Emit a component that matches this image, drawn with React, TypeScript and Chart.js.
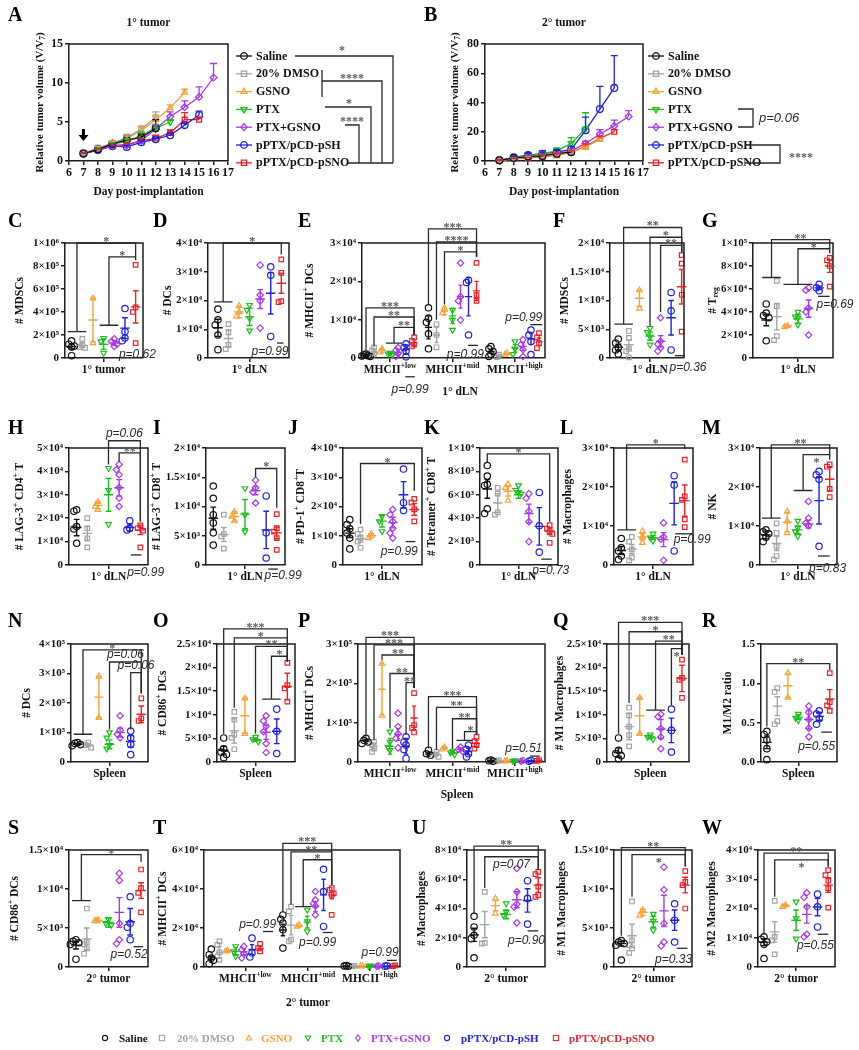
import React, { useEffect, useRef } from 'react';
import { Chart, registerables } from 'chart.js';
Chart.register(...registerables);

const SERIF = '"Liberation Serif", "Times New Roman", Times, serif';
const SANS = '"Liberation Sans", Arial, Helvetica, sans-serif';
const AX = '#1e1e1e';
const TXT = '#111111';
const STAR = '#5a5a5a';

// ---------------- groups ----------------
const GROUPS = ['Saline', '20% DMSO', 'GSNO', 'PTX', 'PTX+GSNO', 'pPTX/pCD-pSH', 'pPTX/pCD-pSNO'];
const COLORS = ['#111111', '#a3a3a3', '#f5a23c', '#1ebd1e', '#a63ae2', '#2121dc', '#e62328'];
const SHAPES = ['circle', 'rect', 'triangle', 'triangle', 'rectRot', 'circle', 'rect'];
const ROTS = [0, 0, 0, 180, 0, 0, 0];

// ---------------- A / B: tumor growth ----------------
const DAYS = [7, 8, 9, 10, 11, 12, 13, 14, 15, 16];
const A_MEAN = [
  [0.95, 1.5, 2.2, 2.7, 3.0, 4.2],
  [0.95, 1.7, 2.3, 3.0, 4.1, 5.6],
  [0.95, 1.6, 2.3, 2.9, 3.9, 5.3, 6.8, 8.8],
  [0.95, 1.5, 2.2, 2.5, 3.3, 4.2, 5.0],
  [0.95, 1.4, 1.9, 2.0, 2.6, 4.1, 5.7, 6.9, 8.2, 10.7],
  [0.95, 1.4, 1.9, 1.8, 2.4, 2.8, 3.3, 4.6, 5.9],
  [0.95, 1.4, 2.0, 2.1, 2.6, 2.9, 3.6, 5.3, 5.3],
];
const A_ERR = [
  [0.05, 0.2, 0.3, 0.5, 0.4, 1.1],
  [0.05, 0.2, 0.3, 0.4, 0.4, 0.7],
  [0.05, 0.2, 0.2, 0.3, 0.4, 0.5, 0.4, 0.4],
  [0.05, 0.15, 0.2, 0.3, 0.4, 0.5, 0.3],
  [0.05, 0.1, 0.2, 0.3, 0.3, 0.5, 0.6, 0.8, 1.3, 1.8],
  [0.05, 0.1, 0.2, 0.2, 0.2, 0.2, 0.2, 0.2, 0.5],
  [0.05, 0.1, 0.2, 0.2, 0.3, 0.4, 0.4, 0.9, 0.3],
];
const B_MEAN = [
  [0.5, 2.0, 3.0, 3.5, 5.0, 6.0],
  [0.5, 2.0, 3.5, 4.0, 5.0, 6.5],
  [0.5, 1.5, 2.5, 3.0, 4.0, 6.0, 9.5, 15.0],
  [0.5, 2.0, 3.5, 5.0, 7.0, 12.0, 22.0],
  [0.5, 1.5, 3.0, 4.0, 5.0, 7.0, 12.0, 18.5, 24.0, 30.4],
  [0.5, 2.5, 4.0, 5.0, 6.0, 8.0, 21.0, 35.5, 50.0],
  [0.5, 1.5, 2.0, 3.0, 4.0, 6.0, 10.0, 15.5, 20.0],
];
const B_ERR = [
  [0.2, 0.5, 0.8, 1, 1.2, 1.5],
  [0.2, 0.5, 0.8, 1, 1.2, 1.5],
  [0.2, 0.4, 0.5, 0.8, 1, 1, 1.5, 1.5],
  [0.2, 0.5, 1, 1.5, 2, 4, 11],
  [0.2, 0.4, 0.8, 1, 1, 1.5, 1.5, 3, 4, 4],
  [0.2, 0.8, 1.5, 2, 2, 2, 9, 15.5, 22],
  [0.2, 0.3, 0.5, 0.8, 1, 1, 1.5, 1.5, 1.5],
];

// ---------------- dot plots: points / mean / SD ----------------
const C_PTS = [[1.5e5, 1.2e5, 1.05e5, 0.95e5, 0.2e5], [1.67e5, 1.15e5, 0.95e5, 0.88e5], [5.2e5, 1.3e5], [1.73e5, 1.44e5, 0.43e5], [1.67e5, 1.44e5, 1.2e5, 1.0e5], [4.3e5, 2.3e5, 1.73e5, 1.5e5], [8.1e5, 4.4e5, 4.0e5, 1.3e5]];
const C_MEAN = [1.0e5, 1.1e5, 3.3e5, 1.2e5, 1.3e5, 2.6e5, 4.45e5];
const C_SD = [0.22e5, 0.2e5, 1.9e5, 0.45e5, 0.2e5, 0.9e5, 1.4e5];

const D_PTS = [[1.7e4, 1.33e4, 1.15e4, 0.8e4, 0.29e4], [1.18e4, 0.89e4, 0.46e4, 0.31e4], [1.82e4, 1.6e4, 1.45e4], [1.84e4, 1.67e4, 1.38e4, 0.95e4], [3.23e4, 2.19e4, 1.98e4, 1.04e4], [3.17e4, 2.88e4, 0.75e4], [3.43e4, 2.96e4, 1.98e4, 1.94e4]];
const D_MEAN = [1.05e4, 0.68e4, 1.6e4, 1.43e4, 2.05e4, 2.25e4, 2.6e4];
const D_SD = [0.3e4, 0.3e4, 0.2e4, 0.3e4, 0.33e4, 0.72e4, 0.35e4];

const E_LOW_PTS = [[0.1e4, 0.08e4, 0.06e4, 0.05e4, 0.04e4], [0.27e4, 0.2e4, 0.11e4, 0.04e4], [0.24e4, 0.15e4], [0.13e4, 0.11e4, 0.09e4], [0.27e4, 0.2e4, 0.11e4, 0.04e4], [0.37e4, 0.27e4, 0.18e4, 0.03e4], [0.54e4, 0.45e4, 0.35e4, 0.3e4]];
const E_LOW_MEAN = [0.07e4, 0.15e4, 0.2e4, 0.11e4, 0.15e4, 0.22e4, 0.4e4];
const E_LOW_SD = [0.02e4, 0.08e4, 0.05e4, 0.02e4, 0.07e4, 0.12e4, 0.08e4];
const E_MID_PTS = [[1.31e4, 1.04e4, 0.93e4, 0.63e4, 0.24e4], [0.88e4, 0.6e4, 0.28e4], [1.3e4, 1.17e4], [1.25e4, 0.99e4, 0.73e4], [2.48e4, 1.6e4, 1.49e4, 0.99e4], [2.03e4, 1.97e4, 0.6e4], [2.48e4, 1.64e4, 1.49e4]];
const E_MID_MEAN = [0.8e4, 0.6e4, 1.22e4, 1.1e4, 1.6e4, 1.6e4, 1.75e4];
const E_MID_SD = [0.3e4, 0.2e4, 0.1e4, 0.2e4, 0.3e4, 0.5e4, 0.25e4];
const E_HIGH_PTS = [[0.3e4, 0.24e4, 0.17e4, 0.1e4, 0.04e4], [0.09e4, 0.02e4], [0.13e4, 0.09e4], [0.43e4, 0.24e4, 0.1e4], [0.48e4, 0.35e4, 0.22e4, 0.04e4], [0.73e4, 0.6e4, 0.43e4, 0.09e4], [0.65e4, 0.54e4, 0.39e4, 0.26e4]];
const E_HIGH_MEAN = [0.17e4, 0.06e4, 0.11e4, 0.25e4, 0.3e4, 0.5e4, 0.42e4];
const E_HIGH_SD = [0.05e4, 0.03e4, 0.02e4, 0.1e4, 0.1e4, 0.15e4, 0.1e4];

const F_PTS = [[0.33e4, 0.26e4, 0.18e4, 0.14e4, 0.07e4], [0.47e4, 0.35e4, 0.16e4, 0.12e4, 0.01e4], [1.18e4, 0.86e4], [0.52e4, 0.45e4, 0.37e4, 0.23e4], [0.7e4, 0.29e4, 0.24e4, 0.18e4, 0.12e4], [1.14e4, 0.82e4, 0.14e4], [1.79e4, 1.64e4, 1.1e4, 0.46e4]];
const F_MEAN = [0.19e4, 0.23e4, 1.04e4, 0.38e4, 0.29e4, 0.7e4, 1.24e4];
const F_SD = [0.05e4, 0.08e4, 0.14e4, 0.07e4, 0.1e4, 0.3e4, 0.3e4];

const G_PTS = [[4.7e4, 3.9e4, 3.7e4, 3.5e4, 1.5e4], [6.7e4, 4.5e4, 1.9e4, 1.55e4], [2.8e4, 2.72e4], [4.0e4, 3.6e4, 3.5e4, 2.9e4], [6.1e4, 5.9e4, 4.35e4, 4.0e4, 2.0e4], [6.4e4, 6.1e4, 5.85e4], [8.7e4, 8.5e4, 8.0e4, 6.2e4]];
const G_MEAN = [3.3e4, 3.6e4, 2.78e4, 3.4e4, 4.3e4, 6.1e4, 8.0e4];
const G_SD = [0.5e4, 1.15e4, 0.05e4, 0.4e4, 0.75e4, 0.15e4, 0.55e4];

const H_PTS = [[2.36e4, 2.3e4, 1.64e4, 1.54e4, 0.93e4], [2.0e4, 1.57e4, 1.14e4, 0.75e4], [2.7e4, 2.5e4, 2.36e4], [4.14e4, 3.2e4, 1.74e4], [4.3e4, 4.07e4, 3.86e4, 3.31e4, 2.86e4, 2.5e4], [1.89e4, 1.57e4, 1.5e4], [1.69e4, 1.57e4, 1.47e4, 0.75e4]];
const H_MEAN = [1.6e4, 1.35e4, 2.55e4, 3.0e4, 3.3e4, 1.6e4, 1.5e4];
const H_SD = [0.35e4, 0.3e4, 0.15e4, 0.7e4, 0.35e4, 0.15e4, 0.2e4];

const I_PTS = [[1.35e4, 1.14e4, 0.86e4, 0.72e4, 0.55e4, 0.34e4], [0.86e4, 0.53e4, 0.49e4, 0.28e4], [0.91e4, 0.83e4, 0.75e4], [1.31e4, 0.86e4, 0.57e4], [1.45e4, 1.32e4, 1.25e4, 1.06e4], [1.18e4, 0.55e4, 0.12e4], [0.87e4, 0.63e4, 0.57e4, 0.46e4, 0.26e4]];
const I_MEAN = [0.8e4, 0.52e4, 0.83e4, 0.87e4, 1.27e4, 0.6e4, 0.55e4];
const I_SD = [0.19e4, 0.12e4, 0.08e4, 0.25e4, 0.07e4, 0.32e4, 0.1e4];

const J_PTS = [[1.55e4, 1.38e4, 1.24e4, 1.09e4, 0.92e4, 0.55e4], [1.21e4, 1.06e4, 0.92e4, 0.8e4, 0.59e4], [1.06e4, 0.92e4], [1.67e4, 1.49e4, 1.15e4], [1.9e4, 1.72e4, 1.49e4, 1.26e4, 1.09e4, 0.92e4], [3.28e4, 2.13e4, 1.86e4], [2.26e4, 2.13e4, 1.9e4, 1.49e4]];
const J_MEAN = [1.09e4, 0.9e4, 1.0e4, 1.5e4, 1.45e4, 2.4e4, 1.9e4];
const J_SD = [0.15e4, 0.12e4, 0.07e4, 0.2e4, 0.18e4, 0.45e4, 0.2e4];

const K_PTS = [[8.5e3, 7.6e3, 6.9e3, 6.8e3, 4.8e3, 4.4e3], [6.6e3, 6.1e3, 4.5e3, 4.3e3], [6.9e3, 6.6e3, 5.5e3], [6.8e3, 6.4e3, 6.2e3, 6.1e3], [6.1e3, 5.7e3, 4.6e3, 3.7e3, 2.0e3], [6.2e3, 3.35e3, 1.1e3], [3.4e3, 3.1e3, 2.9e3, 2.65e3, 1.9e3]];
const K_MEAN = [6.5e3, 5.3e3, 6.3e3, 6.0e3, 4.4e3, 3.3e3, 2.9e3];
const K_SD = [0.8e3, 0.8e3, 0.4e3, 0.3e3, 0.8e3, 1.6e3, 0.3e3];

const L_PTS = [[0.68e4, 0.44e4, 0.36e4, 0.23e4, 0.14e4], [0.72e4, 0.6e4, 0.4e4, 0.19e4, 0.12e4], [0.87e4, 0.72e4, 0.57e4], [0.8e4, 0.7e4, 0.62e4], [1.08e4, 0.72e4, 0.66e4, 0.12e4], [2.29e4, 2.05e4, 0.36e4], [2.7e4, 1.76e4, 1.67e4, 1.17e4, 0.97e4]];
const L_MEAN = [0.37e4, 0.41e4, 0.72e4, 0.7e4, 0.65e4, 1.58e4, 1.65e4];
const L_SD = [0.1e4, 0.12e4, 0.08e4, 0.05e4, 0.18e4, 0.55e4, 0.4e4];

const M_PTS = [[0.9e4, 0.85e4, 0.8e4, 0.71e4, 0.6e4], [1.07e4, 0.82e4, 0.48e4, 0.23e4, 0.14e4], [1.37e4, 1.12e4, 0.82e4], [1.13e4, 0.95e4, 0.86e4, 0.74e4], [1.63e4, 1.2e4, 1.07e4, 1.01e4], [2.4e4, 2.31e4, 2.2e4, 0.48e4], [2.58e4, 2.52e4, 1.95e4, 1.74e4]];
const M_MEAN = [0.77e4, 0.55e4, 1.1e4, 0.9e4, 1.05e4, 1.65e4, 2.2e4];
const M_SD = [0.1e4, 0.18e4, 0.25e4, 0.1e4, 0.1e4, 0.6e4, 0.3e4];

const N_PTS = [[0.66e5, 0.63e5, 0.59e5, 0.55e5], [0.66e5, 0.57e5, 0.49e5], [2.9e5, 1.5e5], [1.0e5, 0.82e5, 0.57e5, 0.45e5], [1.57e5, 1.08e5, 0.94e5, 0.82e5], [1.05e5, 0.82e5, 0.59e5, 0.25e5], [2.16e5, 1.48e5, 1.39e5]];
const N_MEAN = [0.6e5, 0.57e5, 2.2e5, 0.6e5, 1.0e5, 0.7e5, 1.62e5];
const N_SD = [0.04e5, 0.05e5, 0.7e5, 0.15e5, 0.15e5, 0.2e5, 0.28e5];

const O_PTS = [[0.51e4, 0.28e4, 0.21e4, 0.16e4, 0.09e4], [1.06e4, 0.9e4, 0.58e4, 0.51e4, 0.27e4], [1.35e4, 0.6e4], [0.53e4, 0.48e4, 0.43e4], [0.98e4, 0.87e4, 0.76e4, 0.64e4, 0.39e4, 0.2e4], [1.12e4, 0.65e4, 0.18e4], [2.1e4, 1.63e4, 1.56e4, 1.28e4]];
const O_MEAN = [0.25e4, 0.66e4, 0.98e4, 0.47e4, 0.63e4, 0.65e4, 1.6e4];
const O_SD = [0.08e4, 0.26e4, 0.37e4, 0.03e4, 0.15e4, 0.26e4, 0.28e4];

const P_LOW_PTS = [[0.6e5, 0.55e5, 0.51e5, 0.47e5], [0.51e5, 0.43e5, 0.34e5, 0.26e5], [2.5e5, 1.18e5], [0.77e5, 0.51e5, 0.38e5, 0.3e5], [1.24e5, 0.9e5, 0.72e5, 0.6e5, 0.36e5], [0.64e5, 0.51e5, 0.43e5, 0.32e5, 0.09e5], [1.75e5, 0.94e5, 0.87e5, 0.75e5]];
const P_LOW_MEAN = [0.53e5, 0.4e5, 1.85e5, 0.4e5, 0.7e5, 0.4e5, 1.12e5];
const P_LOW_SD = [0.05e5, 0.07e5, 0.65e5, 0.2e5, 0.15e5, 0.2e5, 0.3e5];
const P_MID_PTS = [[0.3e5, 0.21e5, 0.17e5], [0.26e5, 0.19e5, 0.13e5], [0.38e5, 0.32e5], [0.27e5, 0.24e5, 0.19e5], [0.38e5, 0.32e5, 0.27e5], [0.43e5, 0.32e5, 0.21e5, 0.13e5], [0.64e5, 0.53e5, 0.43e5, 0.34e5]];
const P_MID_MEAN = [0.2e5, 0.2e5, 0.35e5, 0.23e5, 0.32e5, 0.27e5, 0.47e5];
const P_MID_SD = [0.05e5, 0.04e5, 0.03e5, 0.03e5, 0.04e5, 0.08e5, 0.08e5];
const P_HIGH_PTS = [[0.05e5, 0.03e5, 0.02e5], [0.04e5, 0.02e5], [0.03e5, 0.02e5], [0.04e5, 0.02e5], [0.04e5, 0.02e5], [0.04e5, 0.02e5], [0.05e5, 0.03e5]];
const P_HIGH_MEAN = [0.03e5, 0.03e5, 0.025e5, 0.03e5, 0.03e5, 0.03e5, 0.04e5];
const P_HIGH_SD = [0.01e5, 0.01e5, 0.005e5, 0.01e5, 0.01e5, 0.01e5, 0.01e5];

const Q_PTS = [[0.51e4, 0.25e4, 0.18e4, 0.13e4, 0.07e4], [1.15e4, 0.99e4, 0.75e4, 0.57e4, 0.33e4], [1.36e4, 0.6e4], [0.58e4, 0.53e4, 0.48e4], [1.01e4, 0.96e4, 0.71e4, 0.53e4, 0.28e4], [1.12e4, 0.67e4, 0.21e4], [2.17e4, 1.78e4, 1.74e4, 1.36e4]];
const Q_MEAN = [0.2e4, 0.75e4, 0.98e4, 0.53e4, 0.7e4, 0.67e4, 1.77e4];
const Q_SD = [0.1e4, 0.28e4, 0.38e4, 0.04e4, 0.2e4, 0.26e4, 0.28e4];

const R_PTS = [[0.39, 0.35, 0.28, 0.17, 0.03], [0.94, 0.89, 0.52, 0.48], [1.13, 0.82], [0.61, 0.56, 0.53], [0.71, 0.63, 0.54, 0.43, 0.32], [0.65, 0.61, 0.55, 0.48], [1.13, 0.76, 0.72, 0.65]];
const R_MEAN = [0.25, 0.71, 0.97, 0.57, 0.54, 0.58, 0.8];
const R_SD = [0.08, 0.12, 0.15, 0.03, 0.12, 0.05, 0.12];

const S_PTS = [[0.35e4, 0.33e4, 0.31e4, 0.29e4, 0.1e4], [0.75e4, 0.32e4, 0.29e4, 0.24e4, 0.17e4], [0.6e4, 0.59e4], [0.61e4, 0.56e4, 0.54e4], [1.2e4, 1.11e4, 0.56e4, 0.35e4, 0.3e4], [0.9e4, 0.56e4, 0.51e4, 0.35e4], [1.25e4, 1.01e4, 0.95e4, 0.7e4]];
const S_MEAN = [0.28e4, 0.36e4, 0.6e4, 0.57e4, 0.7e4, 0.58e4, 0.98e4];
const S_SD = [0.05e4, 0.14e4, 0.03e4, 0.06e4, 0.19e4, 0.17e4, 0.1e4];

const T_LOW_PTS = [[0.92e4, 0.63e4, 0.46e4, 0.34e4, 0.17e4], [1.31e4, 1.14e4, 0.75e4, 0.55e4, 0.37e4], [0.85e4, 0.8e4], [1.06e4, 0.8e4, 0.55e4], [1.06e4, 0.89e4, 0.68e4, 0.46e4], [1.48e4, 0.72e4, 0.51e4], [1.19e4, 0.97e4, 0.8e4]];
const T_LOW_MEAN = [0.4e4, 0.75e4, 0.83e4, 0.8e4, 0.78e4, 0.9e4, 0.95e4];
const T_LOW_SD = [0.15e4, 0.3e4, 0.03e4, 0.2e4, 0.15e4, 0.25e4, 0.1e4];
const T_MID_PTS = [[2.67e4, 2.45e4, 2.25e4, 1.91e4, 0.97e4], [3.1e4, 2.85e4, 1.4e4, 1.31e4], [2.16e4, 2.08e4], [2.93e4, 2.33e4, 1.82e4], [3.87e4, 3.44e4, 3.24e4, 3.13e4, 2.67e4], [5.01e4, 3.87e4, 2.08e4], [4.04e4, 3.95e4, 3.78e4, 3.7e4, 2.67e4]];
const T_MID_MEAN = [1.9e4, 2.15e4, 2.1e4, 2.3e4, 3.1e4, 3.7e4, 3.7e4];
const T_MID_SD = [0.3e4, 0.5e4, 0.05e4, 0.3e4, 0.25e4, 0.8e4, 0.2e4];
const T_HIGH_PTS = [[0.07e4, 0.05e4, 0.04e4], [0.06e4, 0.04e4], [0.05e4, 0.04e4], [0.07e4, 0.05e4], [0.06e4, 0.04e4], [0.06e4, 0.04e4], [0.08e4, 0.05e4]];
const T_HIGH_MEAN = [0.05e4, 0.05e4, 0.045e4, 0.06e4, 0.05e4, 0.05e4, 0.065e4];
const T_HIGH_SD = [0.01e4, 0.01e4, 0.005e4, 0.01e4, 0.01e4, 0.01e4, 0.015e4];

const U_PTS = [[3.47e4, 2.74e4, 2.17e4, 1.94e4, 0.63e4], [5.14e4, 1.65e4, 1.6e4], [4.69e4, 3.66e4], [4.34e4, 3.77e4, 3.54e4], [6.74e4, 5.14e4, 4.3e4, 4.11e4, 3.02e4], [5.9e4, 4.69e4, 2.93e4], [6.51e4, 6.35e4, 5.49e4, 4.91e4, 4.8e4]];
const U_MEAN = [2.2e4, 2.9e4, 4.2e4, 3.6e4, 4.6e4, 4.55e4, 5.6e4];
const U_SD = [0.45e4, 0.9e4, 0.35e4, 0.3e4, 0.55e4, 0.8e4, 0.5e4];

const V_PTS = [[0.34e4, 0.32e4, 0.3e4, 0.28e4, 0.09e4], [0.84e4, 0.34e4, 0.28e4, 0.24e4, 0.18e4], [0.73e4, 0.66e4], [0.68e4, 0.59e4, 0.47e4], [1.28e4, 0.99e4, 0.56e4, 0.32e4, 0.27e4], [0.81e4, 0.6e4, 0.32e4], [1.23e4, 1.09e4, 1.05e4, 0.75e4]];
const V_MEAN = [0.3e4, 0.4e4, 0.7e4, 0.58e4, 0.72e4, 0.6e4, 1.05e4];
const V_SD = [0.03e4, 0.15e4, 0.04e4, 0.07e4, 0.2e4, 0.13e4, 0.1e4];

const W_PTS = [[1.03e4, 0.95e4, 0.86e4, 0.78e4, 0.29e4], [2.26e4, 1.03e4, 0.91e4, 0.43e4], [2.11e4, 2.06e4], [2.23e4, 1.66e4, 0.97e4], [2.54e4, 2.38e4, 2.06e4, 1.12e4, 1.03e4], [2.49e4, 2.06e4, 1.37e4], [3.31e4, 3.14e4, 2.95e4, 2.69e4, 2.03e4]];
const W_MEAN = [0.85e4, 1.2e4, 2.1e4, 1.6e4, 1.8e4, 2.05e4, 2.8e4];
const W_SD = [0.12e4, 0.35e4, 0.03e4, 0.35e4, 0.3e4, 0.3e4, 0.25e4];

// ---------------- significance brackets: [left, leftBase, top, right, rightBase, label, labelBelow] ----------------
const C_BR = [[[0, 1], 2.3e5, 1.0e6, 6, 8.8e5, '*'], [[3, 4], 2.85e5, 8.8e5, 6, 8.5e5, '*']];
const D_BR = [[[0, 1], 1.95e4, 4e4, 6, 3.6e4, '*']];
const E_BR = [
  [0, 0.15e4, 1.31e4, 6, 0.6e4, '***'], [1, 0.3e4, 1.07e4, 6, 0.6e4, '**'], [[3, 4], 0.39e4, 0.8e4, 6, 0.6e4, '**'],
  [7.8, 1.4e4, 3.37e4, 13.8, 2.64e4, '***'], [8.8, 1.0e4, 3.03e4, 13.8, 2.64e4, '****'], [9.8, 1.4e4, 2.77e4, 13.8, 2.64e4, '*'],
];
const F_BR = [[[0, 1], 0.59e4, 2.27e4, 6, 1.84e4, '**'], [3, 0.55e4, 2.1e4, 6, 1.84e4, '*'], [4, 0.8e4, 1.96e4, 6, 1.84e4, '**']];
const G_BR = [[[0, 1], 7.0e4, 1.03e5, 6, 0.95e5, '**'], [[2, 4], 6.4e4, 0.95e5, 6, 0.91e5, '*']];
const H_BR = [[3, 4.3e4, 5.31e4, 6, 1.86e4, 'p=0.06'], [4, 4.4e4, 4.79e4, 6, 1.86e4, '**']];
const I_BR = [[4, 1.5e4, 1.65e4, 6, 0.98e4, '*']];
const J_BR = [[1, 1.4e4, 3.47e4, 6, 2.53e4, '*']];
const K_BR = [[0, 8.8e3, 9.5e3, 6, 3.7e3, '*']];
const L_BR = [[[0, 1], 0.9e4, 3.08e4, 6, 2.97e4, '*']];
const M_BR = [[[0, 1], 1.2e4, 3.08e4, 6, 2.83e4, '**'], [[3, 4], 1.91e4, 2.83e4, 6, 2.7e4, '*', true]];
const N_BR = [[[0, 1], 0.94e5, 3.8e5, 6, 2.33e5, '*'], [3, 1.1e5, 3.39e5, 6, 2.33e5, 'p=0.06'], [5, 1.1e5, 3.03e5, 6, 2.33e5, 'p=0.06']];
const O_BR = [[0, 0.6e4, 2.82e4, 6, 2.13e4, '***'], [1, 1.15e4, 2.63e4, 6, 2.13e4, '*'], [3, 0.6e4, 2.45e4, 6, 2.13e4, '**'], [[4, 5], 1.33e4, 2.24e4, 6, 2.13e4, '*']];
const P_BR = [
  [0, 0.65e5, 3.17e5, 6, 1.88e5, '***'], [1, 0.55e5, 2.98e5, 6, 1.88e5, '***'], [2, 2.6e5, 2.72e5, 6, 1.88e5, '**'], [3, 0.85e5, 2.25e5, 6, 1.88e5, '**'], [5, 0.7e5, 2.02e5, 6, 1.88e5, '**'],
  [7.8, 0.35e5, 1.66e5, 13.8, 0.7e5, '***'], [8.8, 0.3e5, 1.39e5, 13.8, 0.7e5, '**'], [10.8, 0.32e5, 1.1e5, 13.8, 0.7e5, '**'], [[11.8, 12.8], 0.55e5, 0.77e5, 13.8, 0.7e5, '*'],
];
const Q_BR = [[0, 0.6e4, 2.96e4, 6, 2.27e4, '***'], [1, 1.25e4, 2.76e4, 6, 2.27e4, '*'], [[3, 4], 1.1e4, 2.56e4, 6, 2.27e4, '**'], [5, 1.2e4, 2.4e4, 6, 2.27e4, '*', true]];
const R_BR = [[0, 0.45, 1.25, 6, 1.17, '**']];
const S_BR = [[[0, 1], 0.85e4, 1.44e4, 6, 1.35e4, '*']];
const T_BR = [[8.8, 2.8e4, 6.34e4, 14.8, 4.2e4, '***'], [9.8, 3.2e4, 5.9e4, 14.8, 4.2e4, '**'], [[10.8, 11.8], 3.1e4, 5.5e4, 14.8, 4.2e4, '*']];
const U_BR = [[0, 3.7e4, 8.27e4, 6, 6.63e4, '**'], [1, 5.4e4, 7.54e4, 6, 6.63e4, 'p=0.07', true]];
const V_BR = [[0, 0.4e4, 1.53e4, 6, 1.29e4, '**'], [1, 0.9e4, 1.44e4, 6, 1.29e4, '*', true]];
const W_BR = [[0, 1.1e4, 3.89e4, 6, 3.43e4, '**'], [1, 2.4e4, 3.66e4, 6, 3.43e4, '*', true]];

// p-value notes: {x: line span, y: line level, t: text, tx/ty: text centre}
const C_PV = [{ t: 'p=0.62', tx: 6.17, ty: 0.29e5 }];
const D_PV = [{ x: [5.6, 6.2], y: 0.52e4, t: 'p=0.99', tx: 4.93, ty: 0.23e4 }];
const E_PV = [
  { x: [4.9, 6.1], y: -0.49e4, t: 'p=0.99', tx: 5.5, ty: -0.82e4 },
  { x: [12.75, 14.0], y: 0.33e4, t: 'p=0.99', tx: 12.4, ty: 0.08e4 },
  { x: [20.5, 22.0], y: 0.87e4, t: 'p=0.99', tx: 19.7, ty: 1.05e4 },
];
const F_PV = [{ x: [5.37, 6.3], y: 0.04e4, t: 'p=0.36', tx: 6.6, ty: -0.17e4 }];
const G_PV = [{ x: [4.9, 6.0], y: 5.36e4, t: 'p=0.69', tx: 6.5, ty: 4.64e4 }];
const H_PV = [{ x: [5.1, 6.1], y: 0.43e4, t: 'p=0.99', tx: 6.5, ty: -0.34e4 }];
const I_PV = [{ x: [5.2, 6.1], y: -0.07e4, t: 'p=0.99', tx: 6.6, ty: -0.19e4 }];
const J_PV = [{ x: [5.2, 6.1], y: 0.8e4, t: 'p=0.99', tx: 4.6, ty: 0.45e4 }];
const K_PV = [{ x: [5.2, 6.2], y: 0.5e3, t: 'p=0.73', tx: 6.1, ty: -0.5e3 }];
const L_PV = [{ x: [5.1, 6.8], y: 0.8e4, t: 'p=0.99', tx: 6.7, ty: 0.66e4 }];
const M_PV = [{ x: [4.9, 6.0], y: 0.23e4, t: 'p=0.83', tx: 5.8, ty: -0.1e4 }];
const P_PV = [{ x: [20.5, 21.7], y: 0.15e5, t: 'p=0.51', tx: 19.7, ty: 0.34e5 }];
const R_PV = [{ x: [5.2, 6.2], y: 0.38, t: 'p=0.55', tx: 4.75, ty: 0.2 }];
const S_PV = [{ x: [5.3, 6.2], y: 0.26e4, t: 'p=0.52', tx: 4.9, ty: 0.16e4 }];
const T_PV = [
  { x: [6.36, 7.6], y: 1.82e4, t: 'p=0.99', tx: 5.7, ty: 2.16e4 },
  { x: [13.7, 14.9], y: 1.77e4, t: 'p=0.99', tx: 13.06, ty: 1.26e4 },
  { x: [21.6, 22.8], y: 0.34e4, t: 'p=0.99', tx: 20.75, ty: 0.75e4 },
];
const U_PV = [{ x: [5.0, 6.0], y: 2.47e4, t: 'p=0.90', tx: 4.9, ty: 1.83e4 }];
const V_PV = [{ x: [5.2, 6.2], y: 0.24e4, t: 'p=0.33', tx: 4.9, ty: 0.09e4 }];
const W_PV = [{ x: [5.0, 6.0], y: 1.12e4, t: 'p=0.55', tx: 4.8, ty: 0.74e4 }];

// ---------------- layout ----------------
const ML = 62, MT = 40, MR = 30, MB = 45;
const SUB_E = [0, 7.8, 15.6];
const SUB_T = [0, 8.8, 16.6];
const MH = ['MHCII^{+low}', 'MHCII^{+mid}', 'MHCII^{+high}'];

const one = (key, plot, xr, yMax, yStep, ytitle, ytOff, pts, mean, sd, label, br, pv, dec = false) => ({
  key, plot, xr, yMax, yStep, ytitle, ytOff, subX: [0], pts: [pts], mean: [mean], sd: [sd], ticks: [3], labels: [label], br, pv, dec,
});

const PANELS = [
  one('C', [65, 243, 143, 358], [-0.62, 6.69], 1e6, 2e5, '# MDSCs', 45, C_PTS, C_MEAN, C_SD, '1° tumor', C_BR, C_PV),
  one('D', [208, 243, 289, 358], [-0.94, 6.73], 4e4, 1e4, '# DCs', 40, D_PTS, D_MEAN, D_SD, '1° dLN', D_BR, D_PV),
  {
    key: 'E', plot: [362, 243, 545, 358], xr: [-0.5, 22.35], yMax: 3e4, yStep: 1e4, ytitle: '# MHCII^{+} DCs', ytOff: 52,
    subX: SUB_E, pts: [E_LOW_PTS, E_MID_PTS, E_HIGH_PTS], mean: [E_LOW_MEAN, E_MID_MEAN, E_HIGH_MEAN], sd: [E_LOW_SD, E_MID_SD, E_HIGH_SD],
    ticks: [3, 10.8, 18.6], labels: MH, br: E_BR, pv: E_PV, xt: { t: '1° dLN', x: 460, y: 392 },
  },
  one('F', [610, 243, 684, 358], [-0.79, 6.22], 2e4, 5e3, '# MDSCs', 45, F_PTS, F_MEAN, F_SD, '1° dLN', F_BR, F_PV),
  one('G', [753, 243, 833, 358], [-1.25, 6.31], 1e5, 2e4, '# T_{reg}', 40, G_PTS, G_MEAN, G_SD, '1° dLN', G_BR, G_PV),
  one('H', [69, 448, 148, 565], [-0.72, 6.72], 5e4, 1e4, '# LAG-3^{+} CD4^{+} T', 49, H_PTS, H_MEAN, H_SD, '1° dLN', H_BR, H_PV),
  one('I', [206, 448, 285, 565], [-0.69, 6.78], 2e4, 5e3, '# LAG-3^{+} CD8^{+} T', 49, I_PTS, I_MEAN, I_SD, '1° dLN', I_BR, I_PV),
  one('J', [343, 448, 422, 565], [-0.63, 6.72], 4e4, 1e4, '# PD-1^{+} CD8^{+}T', 42, J_PTS, J_MEAN, J_SD, '1° dLN', J_BR, J_PV),
  one('K', [480, 448, 558, 565], [-0.7, 6.8], 1e4, 2e3, '# Tetramer^{+} CD8^{+} T', 48, K_PTS, K_MEAN, K_SD, '1° dLN', K_BR, K_PV),
  one('L', [614, 448, 693, 565], [-0.69, 6.78], 3e4, 1e4, '# Macrophages', 46, L_PTS, L_MEAN, L_SD, '1° dLN', L_BR, L_PV),
  one('M', [760, 448, 837, 565], [-0.56, 6.69], 3e4, 1e4, '# NK', 47, M_PTS, M_MEAN, M_SD, '1° dLN', M_BR, M_PV),
  one('N', [71, 644, 148, 762], [-0.63, 6.63], 4e5, 1e5, '# DCs', 44, N_PTS, N_MEAN, N_SD, 'Spleen', N_BR, []),
  one('O', [217, 644, 295, 762], [-0.63, 6.72], 2.5e4, 5e3, '# CD86^{+} DCs', 54, O_PTS, O_MEAN, O_SD, 'Spleen', O_BR, []),
  {
    key: 'P', plot: [358, 644, 545, 762], xr: [-1, 22.35], yMax: 3e5, yStep: 1e5, ytitle: '# MHCII^{+} DCs', ytOff: 48,
    subX: SUB_E, pts: [P_LOW_PTS, P_MID_PTS, P_HIGH_PTS], mean: [P_LOW_MEAN, P_MID_MEAN, P_HIGH_MEAN], sd: [P_LOW_SD, P_MID_SD, P_HIGH_SD],
    ticks: [3, 10.8, 18.6], labels: MH, br: P_BR, pv: P_PV, xt: { t: 'Spleen', x: 457, y: 795 },
  },
  one('Q', [607, 644, 689, 762], [-1.09, 6.66], 2.5e4, 5e3, '# M1 Macrophages', 47, Q_PTS, Q_MEAN, Q_SD, 'Spleen', Q_BR, []),
  one('R', [761, 644, 837, 762], [-0.56, 6.69], 1.5, 0.5, 'M1/M2 ratio', 33, R_PTS, R_MEAN, R_SD, 'Spleen', R_BR, R_PV, true),
  one('S', [69, 850, 148, 967], [-0.64, 6.64], 1.5e4, 5e3, '# CD86^{+} DCs', 54, S_PTS, S_MEAN, S_SD, '2° tumor', S_BR, S_PV),
  {
    key: 'T', plot: [204, 850, 400, 967], xr: [-0.9, 23.2], yMax: 6e4, yStep: 2e4, ytitle: '# MHCII^{+} DCs', ytOff: 41,
    subX: SUB_T, pts: [T_LOW_PTS, T_MID_PTS, T_HIGH_PTS], mean: [T_LOW_MEAN, T_MID_MEAN, T_HIGH_MEAN], sd: [T_LOW_SD, T_MID_SD, T_HIGH_SD],
    ticks: [4.2, 11.9, 19.5], labels: MH, br: T_BR, pv: T_PV, xt: { t: '2° tumor', x: 308, y: 1003 },
  },
  one('U', [467, 850, 545, 967], [-0.66, 6.63], 8e4, 2e4, '# Macrophages', 45, U_PTS, U_MEAN, U_SD, '2° tumor', U_BR, U_PV),
  one('V', [614, 850, 692, 967], [-0.69, 6.63], 1.5e4, 5e3, '# M1 Macrophages', 52, V_PTS, V_MEAN, V_SD, '2° tumor', V_BR, V_PV),
  one('W', [758, 850, 835, 967], [-0.56, 6.63], 4e4, 1e4, '# M2 Macrophages', 46, W_PTS, W_MEAN, W_SD, '2° tumor', W_BR, W_PV),
];

const LETTERS = [
  ['A', 8, 7], ['B', 424, 7], ['C', 8, 213], ['D', 153, 213], ['E', 298, 213], ['F', 553, 213], ['G', 702, 213],
  ['H', 8, 420], ['I', 153, 420], ['J', 288, 420], ['K', 424, 420], ['L', 560, 420], ['M', 702, 420],
  ['N', 8, 613], ['O', 153, 613], ['P', 298, 613], ['Q', 553, 613], ['R', 702, 613],
  ['S', 8, 820], ['T', 153, 820], ['U', 412, 820], ['V', 560, 820], ['W', 702, 820],
];

// ---------------- helpers ----------------
const SUP = { 3: '³', 4: '⁴', 5: '⁵', 6: '⁶' };
function fmtSci(v) {
  if (Math.abs(v) < 1e-9) return '0';
  const e = Math.floor(Math.log10(v) + 1e-9);
  const m = Math.round((v / Math.pow(10, e)) * 100) / 100;
  return `${m}×10${SUP[e] || e}`;
}

function richSegs(s) {
  const out = [];
  const re = /(\^\{[^}]*\}|_\{[^}]*\})/g;
  let last = 0;
  let m;
  while ((m = re.exec(s))) {
    if (m.index > last) out.push({ t: s.slice(last, m.index), k: 0 });
    out.push({ t: m[0].slice(2, -1), k: m[0][0] === '^' ? 1 : -1 });
    last = m.index + m[0].length;
  }
  if (last < s.length) out.push({ t: s.slice(last), k: 0 });
  return out;
}

function drawRich(ctx, s, x, y, size, rot = false, color = TXT) {
  const segs = richSegs(s);
  const f = (k) => `bold ${k ? size * 0.66 : size}px ${SERIF}`;
  let w = 0;
  segs.forEach((sg) => { ctx.font = f(sg.k); sg.w = ctx.measureText(sg.t).width; w += sg.w; });
  ctx.save();
  ctx.translate(x, y);
  if (rot) ctx.rotate(-Math.PI / 2);
  ctx.fillStyle = color;
  ctx.textBaseline = 'middle';
  ctx.textAlign = 'left';
  let cx = -w / 2;
  segs.forEach((sg) => {
    ctx.font = f(sg.k);
    ctx.fillText(sg.t, cx, sg.k === 1 ? -size * 0.36 : sg.k === -1 ? size * 0.3 : 0);
    cx += sg.w;
  });
  ctx.restore();
}

function drawStars(ctx, s, x, yc, size = 12) {
  ctx.save();
  ctx.font = `bold ${size}px ${SERIF}`;
  ctx.fillStyle = STAR;
  ctx.textAlign = 'center';
  ctx.textBaseline = 'alphabetic';
  ctx.fillText(s, x, yc + size * 0.5);
  ctx.restore();
}

function drawPText(ctx, s, x, y, baseline = 'middle', align = 'center') {
  ctx.save();
  ctx.font = `italic 12px ${SANS}`;
  ctx.fillStyle = '#2a2a2a';
  ctx.textAlign = align;
  ctx.textBaseline = baseline;
  ctx.fillText(s, x, y);
  ctx.restore();
}

function drawMarker(ctx, g, x, y, r) {
  ctx.save();
  ctx.translate(x, y);
  ctx.rotate((ROTS[g] * Math.PI) / 180);
  ctx.beginPath();
  const s = SHAPES[g];
  if (s === 'circle') ctx.arc(0, 0, r, 0, Math.PI * 2);
  else if (s === 'rect') { const h = r * 0.8; ctx.rect(-h, -h, 2 * h, 2 * h); }
  else if (s === 'rectRot') { const h = r * 1.1; ctx.moveTo(0, -h); ctx.lineTo(h * 0.8, 0); ctx.lineTo(0, h); ctx.lineTo(-h * 0.8, 0); ctx.closePath(); }
  else { const h = r * 1.05; ctx.moveTo(0, -h); ctx.lineTo(h * 0.87, h * 0.5); ctx.lineTo(-h * 0.87, h * 0.5); ctx.closePath(); }
  ctx.strokeStyle = COLORS[g];
  ctx.lineWidth = 1.3;
  ctx.stroke();
  ctx.restore();
}

function swarm(vals, yMax) {
  const thr = yMax * 0.05;
  const placed = [];
  const offs = [0, -0.26, 0.26, -0.52, 0.52, -0.78, 0.78];
  return vals.map((v) => {
    for (const o of offs) {
      if (!placed.some((p) => Math.abs(p.v - v) < thr && Math.abs(p.o - o) < 0.25)) {
        placed.push({ v, o });
        return o;
      }
    }
    placed.push({ v, o: 0 });
    return 0;
  });
}

const tickFont = (size) => ({ family: SERIF, weight: 'bold', size });

function axisScale(extra) {
  return {
    grid: { display: true, drawOnChartArea: false, drawTicks: true, tickLength: 4, color: AX, lineWidth: 1.5 },
    border: { display: true, color: AX, width: 1.5 },
    ...extra,
  };
}

// ---------------- dot-plot panels ----------------
function dotDeco(P, ox, oy) {
  return {
    id: 'deco' + P.key,
    afterDraw(chart) {
      const ctx = chart.ctx;
      const xs = chart.scales.x;
      const ys = chart.scales.y;
      const ca = chart.chartArea;
      const X = (v) => xs.getPixelForValue(v);
      const Y = (v) => ys.getPixelForValue(v);
      const unit = Math.abs(X(1) - X(0));
      ctx.save();
      // frame (top, right)
      ctx.strokeStyle = AX;
      ctx.lineWidth = 1.5;
      ctx.beginPath();
      ctx.moveTo(ca.left, ca.top);
      ctx.lineTo(ca.right, ca.top);
      ctx.lineTo(ca.right, ca.bottom);
      ctx.stroke();
      // mean +/- SD
      P.subX.forEach((sx, k) => {
        for (let g = 0; g < 7; g++) {
          const m = P.mean[k][g];
          const s = P.sd[k][g];
          const px = X(sx + g);
          const pm = Y(m), pu = Y(m + s), pd = Y(Math.max(0, m - s));
          ctx.strokeStyle = COLORS[g];
          ctx.lineWidth = 1.4;
          ctx.beginPath();
          ctx.moveTo(px - unit * 0.45, pm); ctx.lineTo(px + unit * 0.45, pm);
          ctx.moveTo(px, pu); ctx.lineTo(px, pd);
          ctx.moveTo(px - unit * 0.27, pu); ctx.lineTo(px + unit * 0.27, pu);
          ctx.moveTo(px - unit * 0.27, pd); ctx.lineTo(px + unit * 0.27, pd);
          ctx.stroke();
        }
      });
      // brackets
      ctx.strokeStyle = '#2a2a2a';
      ctx.lineWidth = 1.3;
      P.br.forEach((b) => {
        const [l, lb, t, r, rb, label, below] = b;
        const yT = Y(t);
        let lx;
        ctx.beginPath();
        if (Array.isArray(l)) {
          const yb = Y(lb);
          ctx.moveTo(X(l[0]) - 4, yb);
          ctx.lineTo(X(l[1]) + 4, yb);
          lx = X((l[0] + l[1]) / 2);
          ctx.moveTo(lx, yb);
        } else {
          lx = X(l);
          ctx.moveTo(lx, Y(lb));
        }
        const rx = X(r);
        ctx.lineTo(lx, yT);
        ctx.lineTo(rx, yT);
        ctx.lineTo(rx, Y(rb));
        ctx.stroke();
        const cx = (lx + rx) / 2;
        if (label[0] === 'p') {
          if (below) drawPText(ctx, label, cx, yT + 2, 'top');
          else drawPText(ctx, label, cx, yT - 1, 'bottom');
        } else {
          drawStars(ctx, label, cx, below ? yT + 5 : yT - 4);
        }
      });
      // p-values
      P.pv.forEach((p) => {
        if (p.x) {
          ctx.strokeStyle = '#2a2a2a';
          ctx.lineWidth = 1.3;
          ctx.beginPath();
          ctx.moveTo(X(p.x[0]), Y(p.y));
          ctx.lineTo(X(p.x[1]), Y(p.y));
          ctx.stroke();
        }
        drawPText(ctx, p.t, X(p.tx), Y(p.ty));
      });
      // axis texts
      drawRich(ctx, P.ytitle, ca.left - P.ytOff, (ca.top + ca.bottom) / 2, 11.5, true);
      P.ticks.forEach((tv, i) => drawRich(ctx, P.labels[i], X(tv), ca.bottom + 12, 11.5));
      if (P.xt) drawRich(ctx, P.xt.t, P.xt.x - ox, P.xt.y - oy, 11.5);
      ctx.restore();
    },
  };
}

function buildDot(canvas, P, ox, oy) {
  const datasets = [];
  for (let g = 0; g < 7; g++) {
    const data = [];
    P.subX.forEach((sx, k) => {
      const vals = P.pts[k][g] || [];
      const offs = swarm(vals, P.yMax);
      vals.forEach((v, i) => data.push({ x: sx + g + offs[i], y: v }));
    });
    datasets.push({
      label: GROUPS[g], data, showLine: false, clip: false,
      pointStyle: SHAPES[g], pointRotation: ROTS[g], pointRadius: 3.2, pointBorderWidth: 1.2,
      pointBorderColor: COLORS[g], pointBackgroundColor: 'rgba(255,255,255,0)',
      borderColor: COLORS[g], backgroundColor: 'rgba(255,255,255,0)',
    });
  }
  return new Chart(canvas, {
    type: 'scatter',
    data: { datasets },
    options: {
      animation: false, responsive: false, devicePixelRatio: 1, events: [],
      layout: { padding: { top: MT, right: MR, left: 0, bottom: 0 } },
      plugins: { legend: { display: false }, tooltip: { enabled: false }, title: { display: false } },
      scales: {
        x: axisScale({
          type: 'linear', min: P.xr[0], max: P.xr[1],
          afterFit: (s) => { s.height = MB; },
          afterBuildTicks: (s) => { s.ticks = P.ticks.map((v) => ({ value: v })); },
          ticks: { display: false },
        }),
        y: axisScale({
          type: 'linear', min: 0, max: P.yMax,
          afterFit: (s) => { s.width = ML; },
          ticks: {
            stepSize: P.yStep, padding: 2, color: TXT, font: tickFont(11),
            callback: (v) => (P.dec ? Number(v).toFixed(1) : fmtSci(Number(v))),
          },
        }),
      },
    },
    plugins: [dotDeco(P, ox, oy)],
  });
}

// ---------------- growth curve panels ----------------
const A_CFG = {
  key: 'A', plot: [69, 44, 228, 161], mr: 192, yMax: 15, yStep: 5, mean: A_MEAN, err: A_ERR, title: '1° tumor', ytOff: 29,
  legX: 236, arrow: true,
};
const B_CFG = {
  key: 'B', plot: [485, 44, 643, 161], mr: 207, yMax: 80, yStep: 20, mean: B_MEAN, err: B_ERR, title: '2° tumor', ytOff: 30,
  legX: 648, arrow: false,
};

function lineDeco(cfg, ox, oy) {
  return {
    id: 'line' + cfg.key,
    afterDraw(chart) {
      const ctx = chart.ctx;
      const xs = chart.scales.x;
      const ys = chart.scales.y;
      const ca = chart.chartArea;
      const X = (v) => xs.getPixelForValue(v);
      const Y = (v) => ys.getPixelForValue(v);
      ctx.save();
      ctx.strokeStyle = AX;
      ctx.lineWidth = 1.5;
      ctx.beginPath();
      ctx.moveTo(ca.left, ca.top);
      ctx.lineTo(ca.right, ca.top);
      ctx.lineTo(ca.right, ca.bottom);
      ctx.stroke();
      // error bars (upper)
      cfg.mean.forEach((ser, g) => {
        ctx.strokeStyle = COLORS[g];
        ctx.lineWidth = 1.3;
        ser.forEach((m, i) => {
          const e = cfg.err[g][i];
          const px = X(DAYS[i]);
          ctx.beginPath();
          ctx.moveTo(px, Y(m));
          ctx.lineTo(px, Y(m + e));
          ctx.moveTo(px - 3.5, Y(m + e));
          ctx.lineTo(px + 3.5, Y(m + e));
          ctx.stroke();
        });
      });
      // arrow (treatment day)
      if (cfg.arrow) {
        const px = X(7);
        const y0 = Y(4.1), y1 = Y(2.55);
        ctx.fillStyle = '#000';
        ctx.fillRect(px - 1.5, y0, 3, y1 - y0 - 5);
        ctx.beginPath();
        ctx.moveTo(px - 5, y1 - 6);
        ctx.lineTo(px + 5, y1 - 6);
        ctx.lineTo(px, y1);
        ctx.closePath();
        ctx.fill();
      }
      // titles
      drawRich(ctx, cfg.title, (ca.left + ca.right) / 2, ca.top - 21, 11.5);
      drawRich(ctx, 'Relative tumor volume (V/V_{7})', ca.left - cfg.ytOff, (ca.top + ca.bottom) / 2, 11, true);
      drawRich(ctx, 'Day post-implantation', (ca.left + ca.right) / 2, ca.bottom + 31, 11.5);
      // legend
      ctx.translate(-ox, -oy);
      GROUPS.forEach((name, g) => {
        const y = 56 + 17.8 * g;
        ctx.strokeStyle = COLORS[g];
        ctx.lineWidth = 1.3;
        ctx.beginPath();
        ctx.moveTo(cfg.legX, y);
        ctx.lineTo(cfg.legX + 16, y);
        ctx.stroke();
        drawMarker(ctx, g, cfg.legX + 8, y, 3.3);
        ctx.font = `bold 12px ${SERIF}`;
        ctx.fillStyle = TXT;
        ctx.textAlign = 'left';
        ctx.textBaseline = 'middle';
        ctx.fillText(name, cfg.legX + 20, y + 0.5);
      });
      ctx.strokeStyle = '#2a2a2a';
      ctx.lineWidth = 1.3;
      const path = (pts) => {
        ctx.beginPath();
        ctx.moveTo(pts[0][0], pts[0][1]);
        for (let i = 1; i < pts.length; i++) ctx.lineTo(pts[i][0], pts[i][1]);
        ctx.stroke();
      };
      if (cfg.key === 'A') {
        path([[295, 56], [393, 56], [393, 163]]);
        path([[322, 70], [322, 97]]);
        path([[322, 81], [382, 81], [382, 163]]);
        path([[325, 107], [371, 107], [371, 163]]);
        path([[345, 125], [359, 125], [359, 163]]);
        path([[348, 163], [393, 163]]);
        drawStars(ctx, '*', 342, 48);
        drawStars(ctx, '****', 352, 76);
        drawStars(ctx, '*', 349, 101);
        drawStars(ctx, '****', 352, 119);
      } else {
        path([[738, 109], [753, 109], [753, 127], [738, 127]]);
        path([[745, 145], [780, 145], [780, 163], [745, 163]]);
        ctx.save();
        ctx.font = `italic 13px ${SANS}`;
        ctx.fillStyle = '#2a2a2a';
        ctx.textBaseline = 'middle';
        ctx.textAlign = 'left';
        ctx.fillText('p=0.06', 759, 118);
        ctx.restore();
        drawStars(ctx, '****', 801, 155);
      }
      ctx.restore();
    },
  };
}

function buildLine(canvas, cfg, ox, oy) {
  const datasets = cfg.mean.map((ser, g) => ({
    label: GROUPS[g],
    data: ser.map((v, i) => ({ x: DAYS[i], y: v })),
    borderColor: COLORS[g], backgroundColor: 'rgba(255,255,255,0)', borderWidth: 1.3, tension: 0, clip: false,
    pointStyle: SHAPES[g], pointRotation: ROTS[g], pointRadius: 3.4, pointBorderWidth: 1.3,
    pointBorderColor: COLORS[g], pointBackgroundColor: 'rgba(255,255,255,0)',
  }));
  return new Chart(canvas, {
    type: 'line',
    data: { datasets },
    options: {
      animation: false, responsive: false, devicePixelRatio: 1, events: [],
      layout: { padding: { top: MT, right: cfg.mr, left: 0, bottom: 0 } },
      plugins: { legend: { display: false }, tooltip: { enabled: false } },
      scales: {
        x: axisScale({
          type: 'linear', min: 6, max: 17,
          afterFit: (s) => { s.height = MB; },
          ticks: { stepSize: 1, padding: 1, color: TXT, font: tickFont(12), maxRotation: 0, autoSkip: false },
        }),
        y: axisScale({
          type: 'linear', min: 0, max: cfg.yMax,
          afterFit: (s) => { s.width = ML; },
          ticks: { stepSize: cfg.yStep, padding: 2, color: TXT, font: tickFont(12) },
        }),
      },
    },
    plugins: [lineDeco(cfg, ox, oy)],
  });
}

// ---------------- React ----------------
function ChartBox({ left, top, width, height, build }) {
  const ref = useRef(null);
  useEffect(() => {
    const ch = build(ref.current);
    return () => ch.destroy();
  }, []);
  return <canvas ref={ref} width={width} height={height} style={{ position: 'absolute', left, top, width, height }} />;
}

function DotPanel({ P }) {
  const [l, t, r, b] = P.plot;
  const ox = l - ML, oy = t - MT;
  const w = r - l + ML + MR, h = b - t + MT + MB;
  return <ChartBox left={ox} top={oy} width={w} height={h} build={(c) => buildDot(c, P, ox, oy)} />;
}

function LinePanel({ cfg }) {
  const [l, t, r, b] = cfg.plot;
  const ox = l - ML, oy = t - MT;
  const w = r - l + ML + cfg.mr, h = b - t + MT + MB;
  return <ChartBox left={ox} top={oy} width={w} height={h} build={(c) => buildLine(c, cfg, ox, oy)} />;
}

const LEG_POS = [[105, 119], [162, 177], [249, 261], [308, 321], [358, 371], [447, 461], [556, 569]];

function LegendMarker({ g }) {
  const c = COLORS[g];
  const s = SHAPES[g];
  let el;
  if (s === 'circle') el = <circle cx="5" cy="5" r="2.6" fill="none" stroke={c} strokeWidth="1.1" />;
  else if (s === 'rect') el = <rect x="2.4" y="2.4" width="5.2" height="5.2" fill="none" stroke={c} strokeWidth="1.1" />;
  else if (s === 'rectRot') el = <polygon points="5,1.8 7.3,5 5,8.2 2.7,5" fill="none" stroke={c} strokeWidth="1.1" />;
  else if (ROTS[g]) el = <polygon points="2.3,3 7.7,3 5,7.8" fill="none" stroke={c} strokeWidth="1.1" />;
  else el = <polygon points="5,2.2 7.7,7 2.3,7" fill="none" stroke={c} strokeWidth="1.1" />;
  return <svg width="10" height="10" style={{ position: 'absolute', left: LEG_POS[g][0] - 5, top: 1033 }}>{el}</svg>;
}

export default function App() {
  return (
    <div style={{ position: 'absolute', left: 0, top: 0, width: 859, height: 1050, overflow: 'hidden', background: '#fff' }}>
      <LinePanel cfg={A_CFG} />
      <LinePanel cfg={B_CFG} />
      {PANELS.map((P) => <DotPanel key={P.key} P={P} />)}
      {LETTERS.map(([s, x, y]) => (
        <div key={s} style={{ position: 'absolute', left: x, top: y - 3.5, font: `bold 20px ${SERIF}`, lineHeight: '20px', color: '#000' }}>{s}</div>
      ))}
      {GROUPS.map((name, g) => (
        <React.Fragment key={name}>
          <LegendMarker g={g} />
          <div style={{ position: 'absolute', left: LEG_POS[g][1], top: 1031, font: `bold 11px ${SERIF}`, lineHeight: '14px', color: COLORS[g], whiteSpace: 'nowrap' }}>{name}</div>
        </React.Fragment>
      ))}
    </div>
  );
}
